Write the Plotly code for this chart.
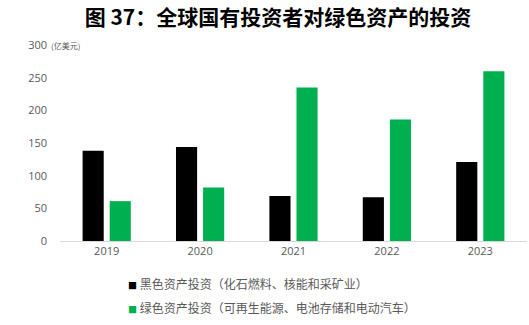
import plotly.graph_objects as go

# Investment by state-owned investors, 100 million USD
years = ["2019", "2020", "2021", "2022", "2023"]
brown_assets = [138, 144, 69, 67, 121]
green_assets = [61, 82, 235, 186, 260]

series_names = [
    "黑色资产投资（化石燃料、核能和采矿业）",
    "绿色资产投资（可再生能源、电池存储和电动汽车）",
]
series_colors = ["#000000", "#00B050"]
y_ticks = [0, 50, 100, 150, 200, 250, 300]

title_text = "图 37：全球国有投资者对绿色资产的投资"
unit_text = "(亿美元)"

cjk = "Noto Sans CJK SC"
grey = "#595959"

fig = go.Figure()
for name, vals, color in zip(series_names, [brown_assets, green_assets], series_colors):
    fig.add_trace(go.Bar(
        x=years, y=vals, name=name,
        marker=dict(color=color, line=dict(width=0)),
        showlegend=False,
    ))

# Legend drawn as text lines with a small coloured square
legend_y = [-0.215, -0.337]
for name, color, ly in zip(series_names, series_colors, legend_y):
    fig.add_annotation(
        text=f'<span style="color:{color};font-size:9px">■</span> {name}',
        xref="paper", yref="paper", x=0.142, y=ly,
        xanchor="left", yanchor="middle", showarrow=False,
        font=dict(family=cjk, size=12, color=grey),
    )

fig.add_annotation(
    text=unit_text, xref="paper", yref="y", x=-0.024, y=300,
    xanchor="left", yanchor="middle", showarrow=False,
    font=dict(family=cjk, size=8, color=grey),
)

fig.update_layout(
    width=529, height=325,
    margin=dict(l=60, r=2, t=45, b=84),
    paper_bgcolor="white", plot_bgcolor="white",
    barmode="group", bargap=0.42, bargroupgap=0.22,
    title=dict(
        text=title_text, x=0.5255, xanchor="center", y=0.947, yanchor="middle",
        font=dict(family=cjk, size=21, color="#000000", weight="bold"),
    ),
    xaxis=dict(
        showline=True, linecolor="#D9D9D9", linewidth=1,
        ticks="", showgrid=False,
        tickfont=dict(family="Open Sans", size=11, color=grey),
    ),
    yaxis=dict(
        range=[0, 300], tickvals=y_ticks, showgrid=False, zeroline=False,
        showline=False, ticks="", ticklabelstandoff=12,
        tickfont=dict(family="Open Sans", size=11, color=grey),
    ),
)

fig.write_html("out.html")
